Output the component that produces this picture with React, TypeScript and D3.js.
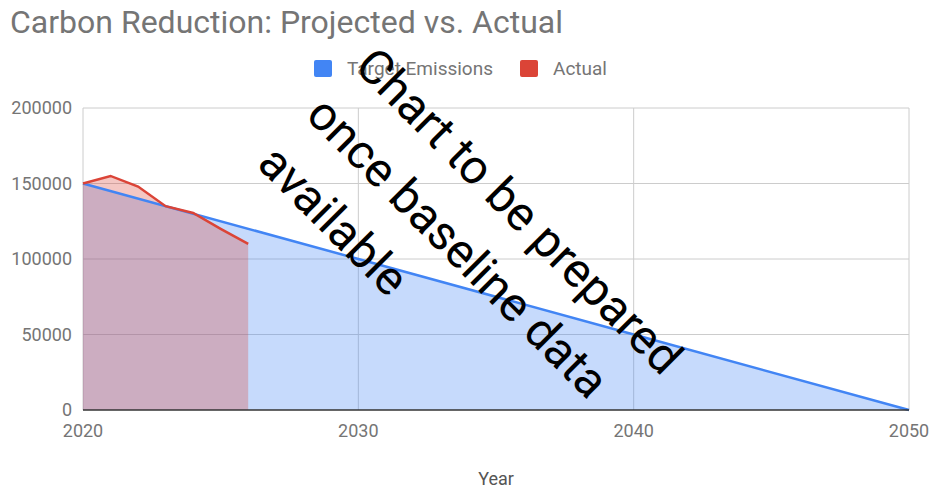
import { useEffect, useRef } from 'react'
import * as d3 from 'd3'

// Data
const targetYears = [2020, 2030, 2040, 2050]
const targetValues = [150000, 100000, 50000, 0]
const actualYears = [2020, 2021, 2022, 2023, 2024, 2025, 2026]
const actualValues = [150000, 155000, 148000, 135000, 130500, 120000, 110000]
const yTicks = [0, 50000, 100000, 150000, 200000]
const xTicks = [2020, 2030, 2040, 2050]
const seriesNames = ['Target Emissions', 'Actual']
const seriesColors = ['#4285f4', '#db4437']
const overlayLines = ['Chart to be prepared', 'once baseline data', 'available']

const App = () => {
	const svgRef = useRef(null)

	useEffect(() => {
		const width = 931
		const height = 488
		const margin = { top: 108, right: 22, bottom: 78, left: 83 }
		const font = 'Roboto, "Noto Sans", sans-serif'
		const grey = '#757575'

		d3.select(svgRef.current).selectAll('*').remove()
		const svg = d3.select(svgRef.current).attr('width', width).attr('height', height)

		svg.append('rect').attr('width', width).attr('height', height).attr('fill', '#fff')

		const x = d3.scaleLinear().domain([2020, 2050]).range([margin.left, width - margin.right])
		const y = d3.scaleLinear().domain([0, 200000]).range([height - margin.bottom, margin.top])

		// Title
		svg
			.append('text')
			.attr('x', 10)
			.attr('y', 33)
			.text('Carbon Reduction: Projected vs. Actual')
			.style('font-family', font)
			.style('font-size', '32px')
			.style('fill', grey)

		// Legend
		const legendX = [314, 520]
		seriesNames.forEach((name, i) => {
			svg
				.append('rect')
				.attr('x', legendX[i])
				.attr('y', 60)
				.attr('width', 18)
				.attr('height', 17)
				.attr('rx', 2)
				.attr('fill', seriesColors[i])
			svg
				.append('text')
				.attr('x', legendX[i] + 33)
				.attr('y', 75)
				.text(name)
				.style('font-family', font)
				.style('font-size', '19px')
				.style('fill', grey)
		})

		// Grid
		const grid = svg.append('g')
		grid
			.selectAll('line.h')
			.data(yTicks.slice(1))
			.join('line')
			.attr('x1', x(2020))
			.attr('x2', x(2050))
			.attr('y1', (d) => y(d))
			.attr('y2', (d) => y(d))
			.attr('stroke', '#cccccc')
		grid
			.selectAll('line.v')
			.data(xTicks)
			.join('line')
			.attr('x1', (d) => x(d))
			.attr('x2', (d) => x(d))
			.attr('y1', y(200000))
			.attr('y2', y(0))
			.attr('stroke', '#cccccc')

		// Areas
		const target = targetYears.map((yr, i) => ({ yr, v: targetValues[i] }))
		const actual = actualYears.map((yr, i) => ({ yr, v: actualValues[i] }))
		const area = d3
			.area()
			.x((d) => x(d.yr))
			.y0(y(0))
			.y1((d) => y(d.v))
		const line = d3
			.line()
			.x((d) => x(d.yr))
			.y((d) => y(d.v))

		svg.append('path').datum(target).attr('d', area).attr('fill', seriesColors[0]).attr('fill-opacity', 0.3)
		svg.append('path').datum(actual).attr('d', area).attr('fill', seriesColors[1]).attr('fill-opacity', 0.3)
		svg
			.append('path')
			.datum(target)
			.attr('d', line)
			.attr('fill', 'none')
			.attr('stroke', seriesColors[0])
			.attr('stroke-width', 2.5)
		svg
			.append('path')
			.datum(actual)
			.attr('d', line)
			.attr('fill', 'none')
			.attr('stroke', seriesColors[1])
			.attr('stroke-width', 2.5)

		// Baseline
		svg
			.append('line')
			.attr('x1', x(2020))
			.attr('x2', x(2050))
			.attr('y1', y(0))
			.attr('y2', y(0))
			.attr('stroke', '#333')
			.attr('stroke-width', 1.5)

		// Axes labels
		svg
			.append('g')
			.selectAll('text')
			.data(yTicks)
			.join('text')
			.attr('x', margin.left - 11)
			.attr('y', (d) => y(d) + 6)
			.attr('text-anchor', 'end')
			.text((d) => String(d))
			.style('font-family', font)
			.style('font-size', '18px')
			.style('fill', grey)
		svg
			.append('g')
			.selectAll('text')
			.data(xTicks)
			.join('text')
			.attr('x', (d) => x(d))
			.attr('y', y(0) + 27)
			.attr('text-anchor', 'middle')
			.text((d) => String(d))
			.style('font-family', font)
			.style('font-size', '18px')
			.style('fill', grey)
		svg
			.append('text')
			.attr('x', (x(2020) + x(2050)) / 2)
			.attr('y', 485)
			.attr('text-anchor', 'middle')
			.text('Year')
			.style('font-family', font)
			.style('font-size', '18px')
			.style('fill', '#555')

		// Overlay watermark
		const overlay = svg
			.append('text')
			.attr('transform', 'translate(353,68) rotate(45)')
			.style('font-family', font)
			.style('font-size', '48px')
			.style('fill', '#000')
		overlayLines.forEach((t, i) => {
			overlay
				.append('tspan')
				.attr('x', 0)
				.attr('y', i * 69)
				.text(t)
		})
	}, [])

	return (
		<svg
			ref={svgRef}
			style={{ display: 'block', position: 'fixed', top: 0, left: 0 }}
		></svg>
	)
}

export default App
